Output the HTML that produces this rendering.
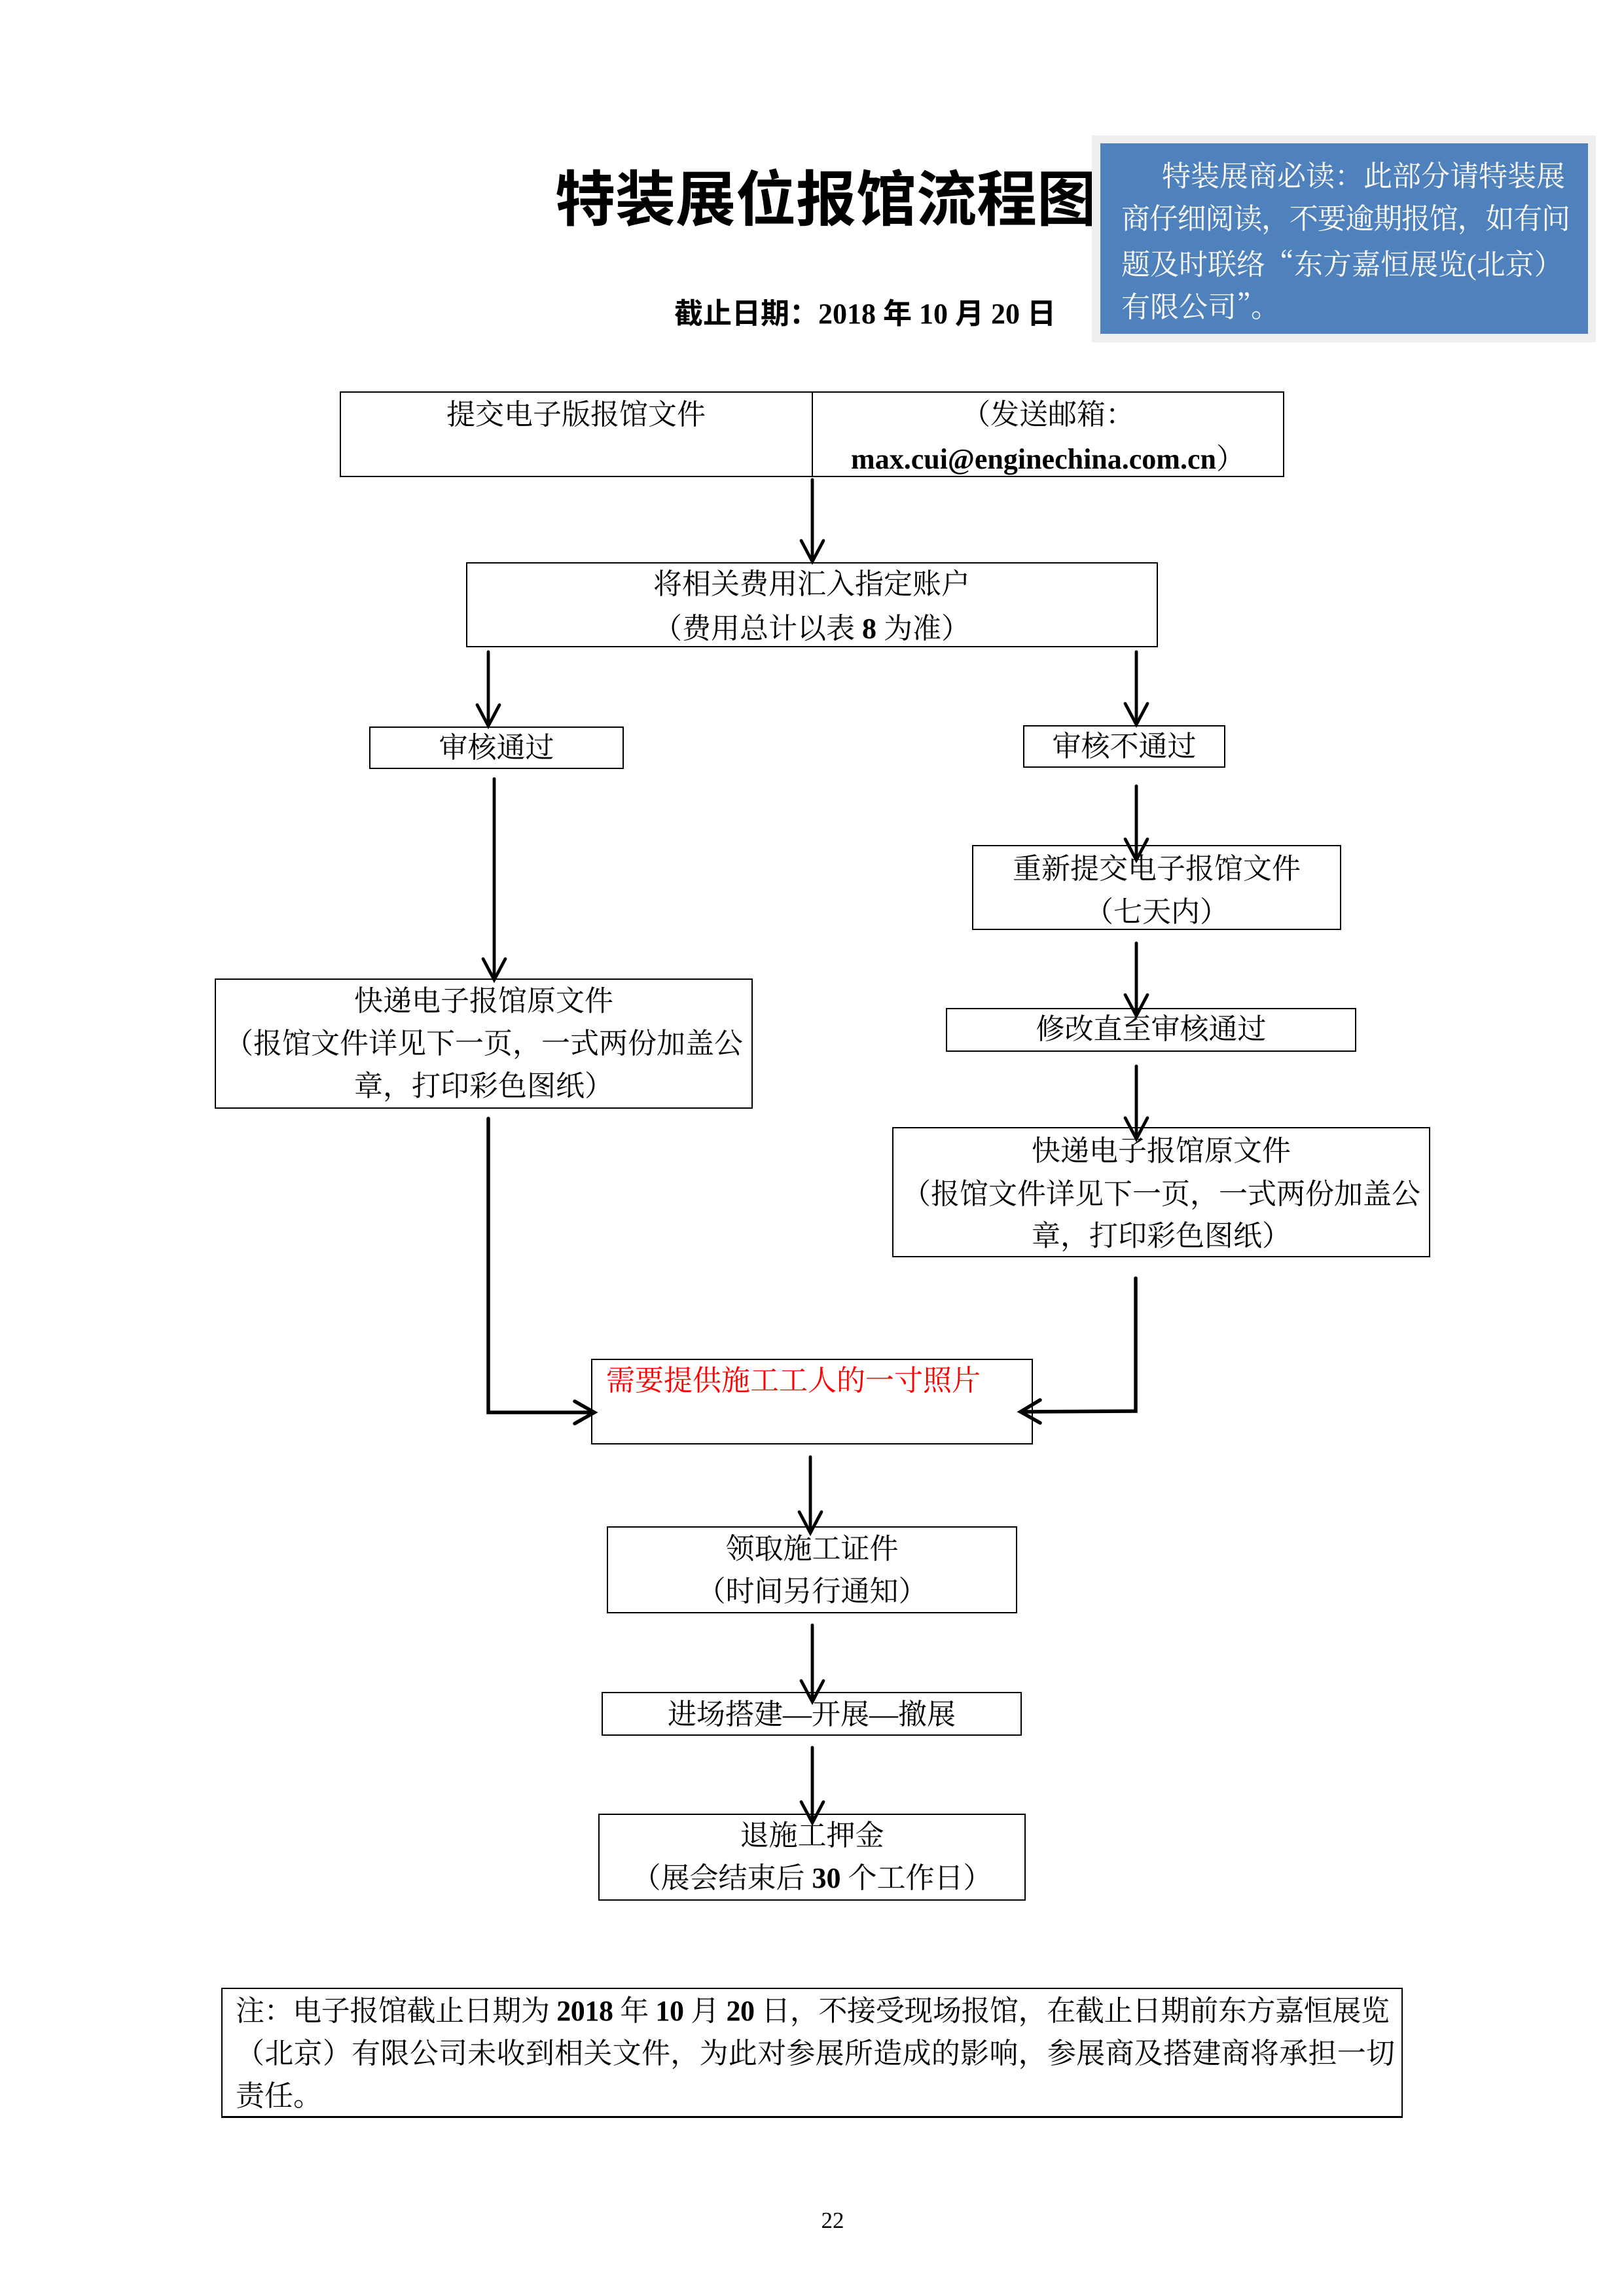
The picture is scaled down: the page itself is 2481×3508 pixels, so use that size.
<!DOCTYPE html>
<html><head><meta charset="utf-8">
<style>
html,body{margin:0;padding:0;background:#fff;}
#pg{position:relative;width:2481px;height:3508px;overflow:hidden;background:#fff;}
.b{position:absolute;border:2.5px solid #000;box-sizing:border-box;}
.t{position:absolute;height:60px;line-height:60px;font-size:44px;white-space:nowrap;text-align:center;color:#000;
 font-family:"Liberation Serif","Noto Serif CJK SC",serif;}
.t b{font-family:"Liberation Serif",serif;font-weight:bold;}
.l{text-align:left;}
svg{position:absolute;left:0;top:0;}
</style></head><body><div id="pg">

<!-- title -->
<div class="t l" style="left:848px;top:248px;height:100px;line-height:100px;font-size:92px;font-family:'Noto Sans CJK SC',sans-serif;font-weight:bold;">特装展位报馆流程图</div>
<div class="t l" style="left:1030px;top:450px;font-size:44px;font-weight:bold;font-family:'Liberation Serif','Noto Sans CJK SC',sans-serif;">截止日期：<b>2018</b> 年 <b>10</b> 月 <b>20</b> 日</div>

<!-- blue note -->
<div style="position:absolute;left:1668px;top:207px;width:770px;height:316px;background:#eeeeee;"></div>
<div style="position:absolute;left:1681px;top:219px;width:745px;height:291px;background:#4f81bd;"></div>
<div class="t l" style="left:1775px;top:240px;color:#fff;">特装展商必读：此部分请特装展</div>
<div class="t l" style="left:1713px;top:305px;color:#fff;letter-spacing:-1.2px;">商仔细阅读，不要逾期报馆，如有问</div>
<div class="t l" style="left:1713px;top:370px;color:#fff;font-family:'Noto Serif CJK SC',serif;">题及时联络“东方嘉恒展览<span style="font-family:'Liberation Serif',serif">(</span>北京）</div>
<div class="t l" style="left:1713px;top:435px;color:#fff;font-family:'Noto Serif CJK SC',serif;">有限公司”。</div>

<!-- boxes -->
<div class="b" style="left:519px;top:598px;width:1443px;height:131px;"></div>
<div style="position:absolute;left:1240px;top:598px;width:2px;height:131px;background:#000;"></div>
<div class="b" style="left:712px;top:859px;width:1057px;height:130px;"></div>
<div class="b" style="left:564px;top:1110px;width:389px;height:65px;"></div>
<div class="b" style="left:1563px;top:1108px;width:309px;height:65px;"></div>
<div class="b" style="left:328px;top:1495px;width:822px;height:199px;"></div>
<div class="b" style="left:1485px;top:1291px;width:564px;height:130px;"></div>
<div class="b" style="left:1445px;top:1540px;width:627px;height:67px;"></div>
<div class="b" style="left:1363px;top:1722px;width:822px;height:199px;"></div>
<div class="b" style="left:903px;top:2076px;width:675px;height:131px;"></div>
<div class="b" style="left:927px;top:2332px;width:627px;height:133px;"></div>
<div class="b" style="left:919px;top:2585px;width:642px;height:67px;"></div>
<div class="b" style="left:914px;top:2771px;width:653px;height:133px;"></div>
<div class="b" style="left:338px;top:3037px;width:1805px;height:199px;border-bottom-width:3.5px;"></div>

<!-- box texts -->
<div class="t" style="left:580px;width:600px;top:604px;">提交电子版报馆文件</div>
<div class="t" style="left:1301px;width:600px;top:604px;">（发送邮箱：</div>
<div class="t" style="left:1251px;width:700px;top:672px;"><b>max.cui@enginechina.com.cn</b>）</div>

<div class="t" style="left:840px;width:800px;top:863px;">将相关费用汇入指定账户</div>
<div class="t" style="left:840px;width:800px;top:931px;">（费用总计以表 <b>8</b> 为准）</div>

<div class="t" style="left:564px;width:389px;top:1113px;">审核通过</div>
<div class="t" style="left:1563px;width:309px;top:1111px;">审核不通过</div>

<div class="t" style="left:328px;width:822px;top:1500px;">快递电子报馆原文件</div>
<div class="t" style="left:328px;width:822px;top:1565px;">（报馆文件详见下一页，一式两份加盖公</div>
<div class="t" style="left:328px;width:822px;top:1630px;">章，打印彩色图纸）</div>

<div class="t" style="left:1485px;width:564px;top:1298px;">重新提交电子报馆文件</div>
<div class="t" style="left:1485px;width:564px;top:1364px;">（七天内）</div>

<div class="t" style="left:1445px;width:627px;top:1543px;">修改直至审核通过</div>

<div class="t" style="left:1363px;width:822px;top:1729px;">快递电子报馆原文件</div>
<div class="t" style="left:1363px;width:822px;top:1795px;">（报馆文件详见下一页，一式两份加盖公</div>
<div class="t" style="left:1363px;width:822px;top:1859px;">章，打印彩色图纸）</div>

<div class="t l" style="left:926px;top:2080px;color:#ff0000;">需要提供施工工人的一寸照片</div>

<div class="t" style="left:927px;width:627px;top:2337px;">领取施工证件</div>
<div class="t" style="left:927px;width:627px;top:2402px;">（时间另行通知）</div>

<div class="t" style="left:919px;width:642px;top:2590px;">进场搭建—开展—撤展</div>

<div class="t" style="left:914px;width:653px;top:2775px;">退施工押金</div>
<div class="t" style="left:914px;width:653px;top:2840px;">（展会结束后 <b>30</b> 个工作日）</div>

<!-- note -->
<div class="t l" style="left:360px;top:3043px;letter-spacing:-0.4px;">注：电子报馆截止日期为 <b>2018</b> 年 <b>10</b> 月 <b>20</b> 日，不接受现场报馆，在截止日期前东方嘉恒展览</div>
<div class="t l" style="left:360px;top:3108px;width:1771px;text-align:justify;text-align-last:justify;">（北京）有限公司未收到相关文件，为此对参展所造成的影响，参展商及搭建商将承担一切</div>
<div class="t l" style="left:360px;top:3173px;">责任。</div>

<div class="t" style="left:1172px;width:200px;top:3363px;font-size:35px;">22</div>

<!-- connectors -->
<svg width="2481" height="3508" viewBox="0 0 2481 3508">
<g stroke="#000" stroke-width="4.8" fill="none" stroke-linecap="round" stroke-linejoin="miter">
<line x1="1241" y1="733" x2="1241" y2="857"/>
<polyline points="1224,826 1241,858 1258,826"/>

<line x1="746" y1="996" x2="746" y2="1108"/>
<polyline points="729,1077 746,1109 763,1077"/>
<line x1="1736" y1="996" x2="1736" y2="1106"/>
<polyline points="1719,1075 1736,1107 1753,1075"/>

<line x1="755" y1="1190" x2="755" y2="1495"/>
<polyline points="738,1465 755,1497 772,1465"/>

<line x1="1736" y1="1201" x2="1736" y2="1312"/>
<polyline points="1719,1282 1736,1314 1753,1282"/>
<line x1="1736" y1="1441" x2="1736" y2="1550"/>
<polyline points="1719,1520 1736,1552 1753,1520"/>
<line x1="1736" y1="1629" x2="1736" y2="1738"/>
<polyline points="1719,1708 1736,1740 1753,1708"/>

<polyline points="746,1709 746,2158 906,2158" stroke-width="5.5"/>
<polyline points="878,2141 908,2158 878,2175" stroke-width="5.5"/>
<polyline points="1735,1953 1735,2156 1561,2157" stroke-width="5.5"/>
<polyline points="1589,2139 1559,2157 1589,2174" stroke-width="5.5"/>

<line x1="1238" y1="2226" x2="1238" y2="2340"/>
<polyline points="1221,2310 1238,2342 1255,2310"/>
<line x1="1241" y1="2483" x2="1241" y2="2598"/>
<polyline points="1224,2568 1241,2600 1258,2568"/>
<line x1="1241" y1="2670" x2="1241" y2="2783"/>
<polyline points="1224,2753 1241,2785 1258,2753"/>
</g>
</svg>

</div></body></html>
